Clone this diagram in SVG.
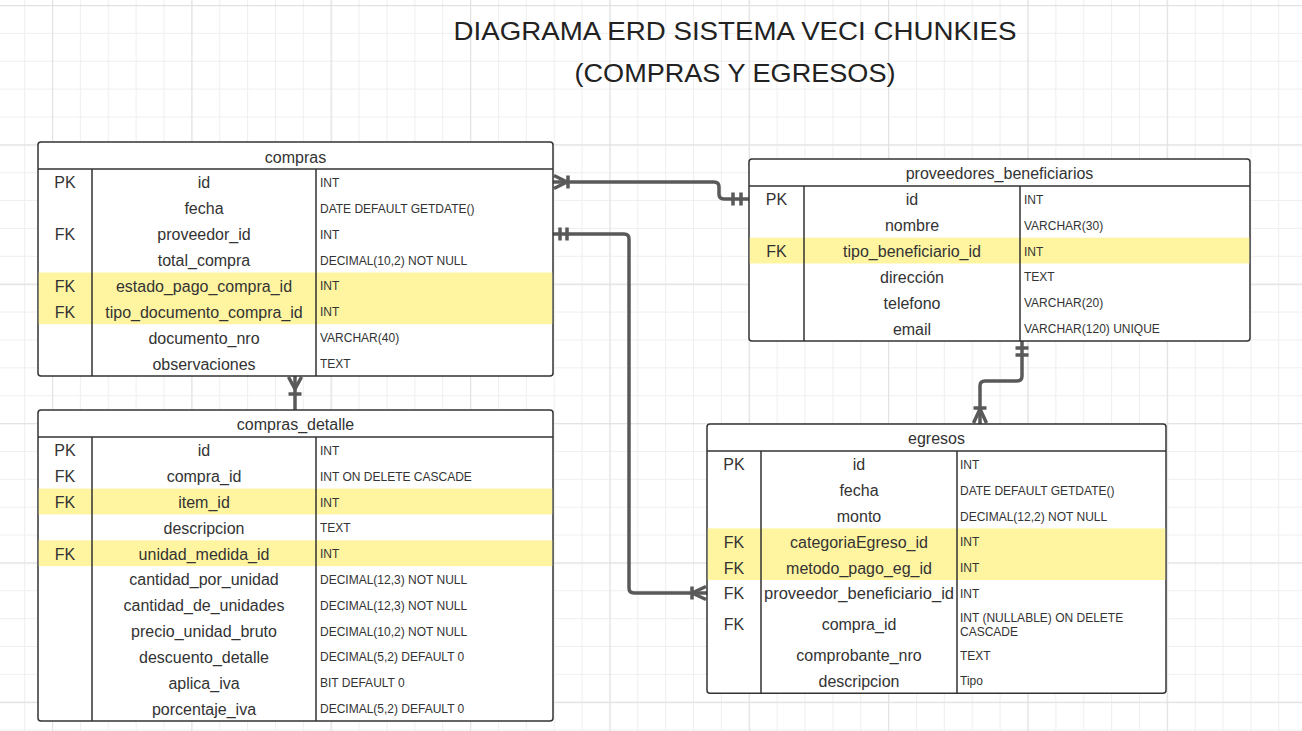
<svg xmlns="http://www.w3.org/2000/svg" width="1302" height="731" viewBox="0 0 1302 731">
<defs>
<pattern id="gMinor" patternUnits="userSpaceOnUse" x="24.13" y="5" width="27.87" height="27.87">
<path d="M0.5,0 V27.87 M0,0.5 H27.87" fill="none" stroke="#efefef" stroke-width="1.2"/>
</pattern>
<pattern id="gMajor" patternUnits="userSpaceOnUse" x="52" y="5" width="139.35" height="139.35">
<path d="M0.5,0 V139.35 M0,0.5 H139.35" fill="none" stroke="#e2e2e2" stroke-width="1.3"/>
</pattern>
<style>
.bg{fill:#fff}
.tbl{fill:#fff;stroke:#333;stroke-width:1.5}
.ln{stroke:#333;stroke-width:1.5;fill:none}
.hl{fill:#fff5a1}
.h,.k,.n{font-family:"Liberation Sans",Arial,sans-serif;font-size:16px;fill:#333;text-anchor:middle;dominant-baseline:central;transform:translateY(1px)}
.t{font-family:"Liberation Sans",Arial,sans-serif;font-size:12px;fill:#333;dominant-baseline:central;transform:translateY(1px)}
.title{font-family:"Liberation Sans",Arial,sans-serif;font-size:26px;fill:#222;text-anchor:middle}
.c{fill:none;stroke:#595959;stroke-width:3.5;stroke-linecap:butt;stroke-linejoin:round}
</style>
</defs>
<rect class="bg" x="0" y="0" width="1302" height="731"/>
<rect x="0" y="0" width="1302" height="731" fill="url(#gMinor)"/>
<rect x="0" y="0" width="1302" height="731" fill="url(#gMajor)"/>

<g id="title">
<text class="title" x="735" y="40" textLength="563" lengthAdjust="spacingAndGlyphs">DIAGRAMA ERD SISTEMA VECI CHUNKIES</text>
<text class="title" x="735" y="82" textLength="321" lengthAdjust="spacingAndGlyphs">(COMPRAS Y EGRESOS)</text>
</g>

<g id="connectors">
<path class="c" d="M553,182 H714 Q719,182 719,187 V194 Q719,199 724,199 H749"/>
<path class="c" d="M554,175.5 L567,182 L554,188.5 M568,175.5 V188.5"/>
<path class="c" d="M733,192.5 V205.5 M741,192.5 V205.5"/>
<path class="c" d="M553,234 H624 Q629,234 629,239 V588 Q629,593 634,593 H707"/>
<path class="c" d="M560,227.5 V240.5 M567,227.5 V240.5"/>
<path class="c" d="M692,586.5 V599.5 M706,586.5 L692,593 L706,599.5"/>
<path class="c" d="M1022,341 V376 Q1022,381 1017,381 H985 Q980,381 980,386 V424"/>
<path class="c" d="M1015.5,348 H1028.5 M1015.5,355 H1028.5"/>
<path class="c" d="M973.5,408 H986.5 M973.5,423 L980,409 L986.5,423"/>
<path class="c" d="M295,376 V410"/>
<path class="c" d="M288.5,377 L295,389 L301.5,377 M288.5,394 H301.5"/>
</g>

<g id="compras">
<rect class="tbl" x="38" y="142" width="515" height="234" rx="3"/>
<rect class="hl" x="38.8" y="272.5" width="513.4" height="51.75"/>
<path class="ln" d="M38,169 H553 M92,169 V376 M316,169 V376"/>
<text class="h" x="295.5" y="156">compras</text>
<text class="k" x="65" y="181.9">PK</text><text class="n" x="204" y="181.9">id</text><text class="t" x="320" y="181.9">INT</text>
<text class="n" x="204" y="207.8">fecha</text><text class="t" x="320" y="207.8">DATE DEFAULT GETDATE()</text>
<text class="k" x="65" y="233.7">FK</text><text class="n" x="204" y="233.7">proveedor_id</text><text class="t" x="320" y="233.7">INT</text>
<text class="n" x="204" y="259.6">total_compra</text><text class="t" x="320" y="259.6">DECIMAL(10,2) NOT NULL</text>
<text class="k" x="65" y="285.4">FK</text><text class="n" x="204" y="285.4">estado_pago_compra_id</text><text class="t" x="320" y="285.4">INT</text>
<text class="k" x="65" y="311.3">FK</text><text class="n" x="204" y="311.3">tipo_documento_compra_id</text><text class="t" x="320" y="311.3">INT</text>
<text class="n" x="204" y="337.2">documento_nro</text><text class="t" x="320" y="337.2">VARCHAR(40)</text>
<text class="n" x="204" y="363.1">observaciones</text><text class="t" x="320" y="363.1">TEXT</text>
</g>

<g id="proveedores_beneficiarios">
<rect class="tbl" x="749" y="159" width="501" height="182" rx="3"/>
<rect class="hl" x="749.8" y="237.7" width="499.4" height="25.8"/>
<path class="ln" d="M749,186 H1250 M804,186 V341 M1020,186 V341"/>
<text class="h" x="999.5" y="172.5">proveedores_beneficiarios</text>
<text class="k" x="776.5" y="198.9">PK</text><text class="n" x="912" y="198.9">id</text><text class="t" x="1024" y="198.9">INT</text>
<text class="n" x="912" y="224.75">nombre</text><text class="t" x="1024" y="224.75">VARCHAR(30)</text>
<text class="k" x="776.5" y="250.6">FK</text><text class="n" x="912" y="250.6">tipo_beneficiario_id</text><text class="t" x="1024" y="250.6">INT</text>
<text class="n" x="912" y="276.4">dirección</text><text class="t" x="1024" y="276.4">TEXT</text>
<text class="n" x="912" y="302.25">telefono</text><text class="t" x="1024" y="302.25">VARCHAR(20)</text>
<text class="n" x="912" y="328.1">email</text><text class="t" x="1024" y="328.1">VARCHAR(120) UNIQUE</text>
</g>

<g id="compras_detalle">
<rect class="tbl" x="38" y="410" width="515" height="311" rx="3"/>
<rect class="hl" x="38.8" y="488.6" width="513.4" height="25.8"/>
<rect class="hl" x="38.8" y="540.3" width="513.4" height="25.8"/>
<path class="ln" d="M38,437 H553 M92,437 V721 M316,437 V721"/>
<text class="h" x="295.5" y="423.5">compras_detalle</text>
<text class="k" x="65" y="449.9">PK</text><text class="n" x="204" y="449.9">id</text><text class="t" x="320" y="449.9">INT</text>
<text class="k" x="65" y="475.7">FK</text><text class="n" x="204" y="475.7">compra_id</text><text class="t" x="320" y="475.7">INT ON DELETE CASCADE</text>
<text class="k" x="65" y="501.5">FK</text><text class="n" x="204" y="501.5">item_id</text><text class="t" x="320" y="501.5">INT</text>
<text class="n" x="204" y="527.3">descripcion</text><text class="t" x="320" y="527.3">TEXT</text>
<text class="k" x="65" y="553.1">FK</text><text class="n" x="204" y="553.1">unidad_medida_id</text><text class="t" x="320" y="553.1">INT</text>
<text class="n" x="204" y="578.9">cantidad_por_unidad</text><text class="t" x="320" y="578.9">DECIMAL(12,3) NOT NULL</text>
<text class="n" x="204" y="604.8">cantidad_de_unidades</text><text class="t" x="320" y="604.8">DECIMAL(12,3) NOT NULL</text>
<text class="n" x="204" y="630.6">precio_unidad_bruto</text><text class="t" x="320" y="630.6">DECIMAL(10,2) NOT NULL</text>
<text class="n" x="204" y="656.4">descuento_detalle</text><text class="t" x="320" y="656.4">DECIMAL(5,2) DEFAULT 0</text>
<text class="n" x="204" y="682.2">aplica_iva</text><text class="t" x="320" y="682.2">BIT DEFAULT 0</text>
<text class="n" x="204" y="708">porcentaje_iva</text><text class="t" x="320" y="708">DECIMAL(5,2) DEFAULT 0</text>
</g>

<g id="egresos">
<rect class="tbl" x="707" y="424" width="459" height="269.2" rx="3"/>
<rect class="hl" x="707.8" y="528.4" width="457.4" height="51.6"/>
<path class="ln" d="M707,451 H1166 M761,451 V693.2 M957,451 V693.2"/>
<text class="h" x="936.5" y="437.5">egresos</text>
<text class="k" x="734" y="463.9">PK</text><text class="n" x="859" y="463.9">id</text><text class="t" x="960" y="463.9">INT</text>
<text class="n" x="859" y="489.7">fecha</text><text class="t" x="960" y="489.7">DATE DEFAULT GETDATE()</text>
<text class="n" x="859" y="515.5">monto</text><text class="t" x="960" y="515.5">DECIMAL(12,2) NOT NULL</text>
<text class="k" x="734" y="541.3">FK</text><text class="n" x="859" y="541.3">categoriaEgreso_id</text><text class="t" x="960" y="541.3">INT</text>
<text class="k" x="734" y="567.1">FK</text><text class="n" x="859" y="567.1">metodo_pago_eg_id</text><text class="t" x="960" y="567.1">INT</text>
<text class="k" x="734" y="592.9">FK</text><text class="n" x="859" y="592.9" textLength="190" lengthAdjust="spacingAndGlyphs">proveedor_beneficiario_id</text><text class="t" x="960" y="592.9">INT</text>
<text class="k" x="734" y="623.7">FK</text><text class="n" x="859" y="623.7">compra_id</text><text class="t" x="960" y="617">INT (NULLABLE) ON DELETE</text><text class="t" x="960" y="631">CASCADE</text>
<text class="n" x="859" y="654.5">comprobante_nro</text><text class="t" x="960" y="654.5">TEXT</text>
<text class="n" x="859" y="680.3">descripcion</text><text class="t" x="960" y="680.3">Tipo</text>
</g>
</svg>
